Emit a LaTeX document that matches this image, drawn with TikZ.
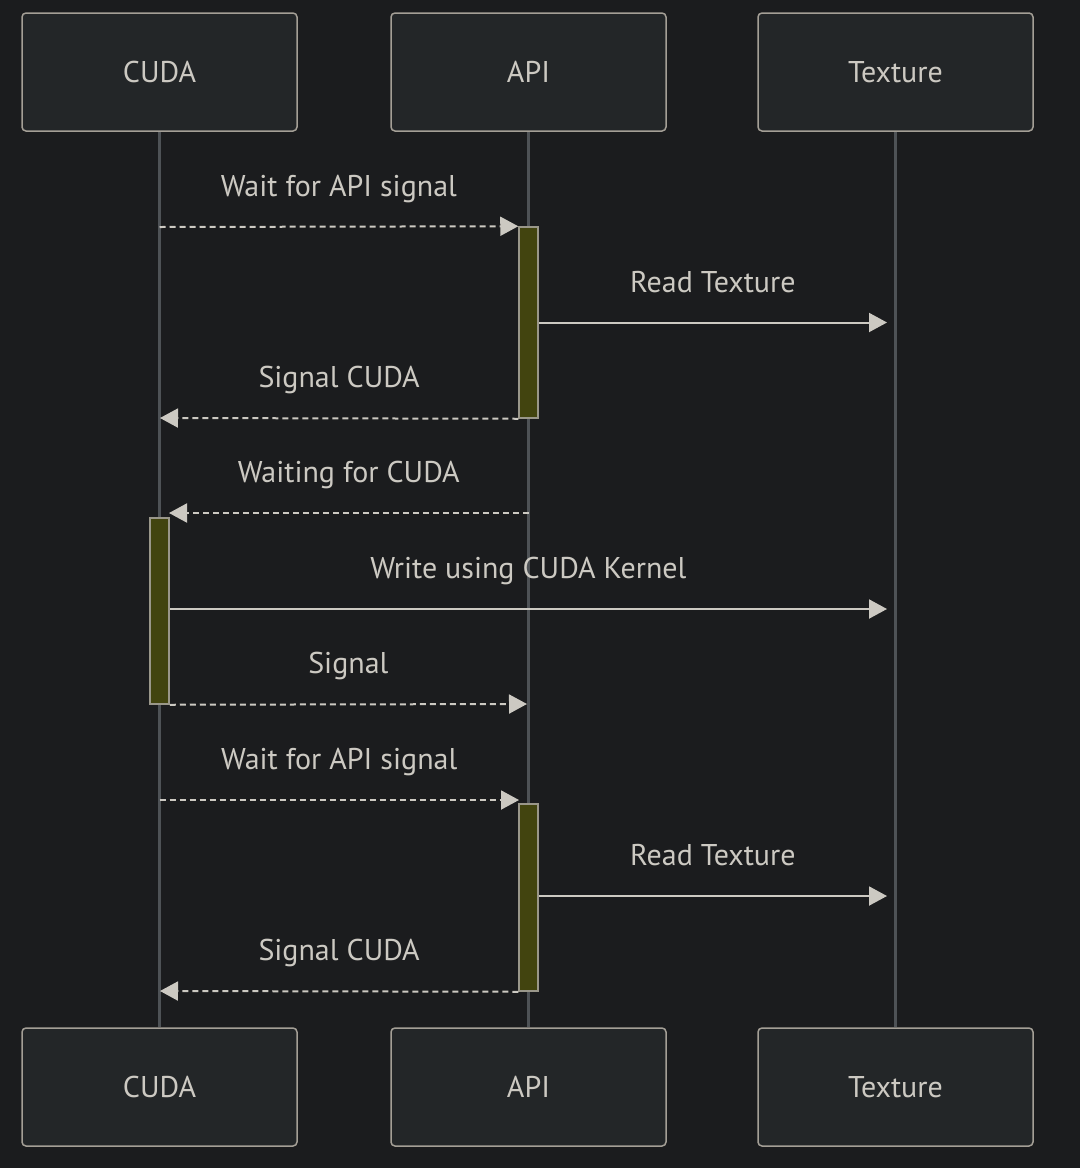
\documentclass[tikz,border=0pt]{standalone}
\usepackage{fontspec}
\setmainfont{PT Sans}
\usepackage{tikz}
\usetikzlibrary{arrows.meta}

\definecolor{bg}{HTML}{1B1C1E}
\definecolor{boxfill}{HTML}{232628}
\definecolor{boxline}{HTML}{A49F96}
\definecolor{fg}{HTML}{CCC9C2}
\definecolor{lifeline}{HTML}{4E5256}
\definecolor{actfill}{HTML}{42440F}
\definecolor{actline}{HTML}{9A978A}

\begin{document}
\begin{tikzpicture}[x=1pt, y=-1pt]
            \begin{scope}
              \tikzset{actor/.style = {shape=rectangle, rounded corners=4pt, draw=boxline, fill=boxfill, line width=1.5pt, minimum width=275pt, minimum height=118pt, text=fg, font=\fontsize{30}{34}\selectfont, text height=21pt, text depth=0pt}}
              \tikzset{act/.style = {shape=rectangle, draw=actline, fill=actfill, line width=1.5pt, minimum width=19pt, inner sep=0pt}}
              \tikzset{life/.style = {draw=lifeline, line width=3pt}}
              \tikzset{msg/.style = {draw=fg, line width=2pt, -{Triangle[length=18pt, width=19pt]}}}
              \tikzset{reply/.style = {msg, dash pattern=on 6pt off 4pt}}
              \tikzset{lbl/.style = {text=fg, font=\fontsize{30}{34}\selectfont, text height=21pt, text depth=6pt, yshift=38pt}}

              \fill[bg] (0,0) rectangle (1080,1168);
              \useasboundingbox (0,0) rectangle (1080,1168);

              \node[actor] (cuda) at (159.5, 72) {CUDA};
              \node[actor] (api) at (528.5, 72) {API};
              \node[actor] (tex) at (895.5, 72) {Texture};
              \node[actor] (cuda2) at (159.5, 1087) {CUDA};
              \node[actor] (api2) at (528.5, 1087) {API};
              \node[actor] (tex2) at (895.5, 1087) {Texture};

              \draw[life] (cuda) -- (cuda2);
              \draw[life] (api) -- (api2);
              \draw[life] (tex) -- (tex2);

              \node[act, minimum height=191pt] (a1) at (528.5, 322.5) {};
              \node[act, minimum height=186pt] (c1) at (159.5, 611) {};
              \node[act, minimum height=187pt] (a2) at (528.5, 897.5) {};

              \coordinate (m1) at (159.5, 227);
              \coordinate (m2) at (887, 322.5);
              \coordinate (m3) at (160, 418);
              \coordinate (m4a) at (528.5, 513);
              \coordinate (m4b) at (169, 513);
              \coordinate (m5) at (887, 609);
              \coordinate (m6) at (527, 704);
              \coordinate (m7a) at (159.5, 800);
              \coordinate (m7b) at (519, 800);
              \coordinate (m8) at (887, 896);
              \coordinate (m9) at (160, 991);

              \draw[reply] (m1) to node[midway, lbl] {Wait for API signal} (a1.north west);
              \draw[msg] (a1.east) to node[midway, lbl] {Read Texture} (m2);
              \draw[reply] (a1.south west) to node[midway, lbl] {Signal CUDA} (m3);
              \draw[reply] (m4a) to node[midway, lbl] {Waiting for CUDA} (m4b);
              \draw[msg] (c1.east |- m5) to node[midway, lbl] {Write using CUDA Kernel} (m5);
              \draw[reply] (c1.south east) to node[midway, lbl] {Signal} (m6);
              \draw[reply] (m7a) to node[midway, lbl] {Wait for API signal} (m7b);
              \draw[msg] (a2.east |- m8) to node[midway, lbl] {Read Texture} (m8);
              \draw[reply] (a2.south west) to node[midway, lbl] {Signal CUDA} (m9);
            \end{scope}
\end{tikzpicture}
\end{document}
